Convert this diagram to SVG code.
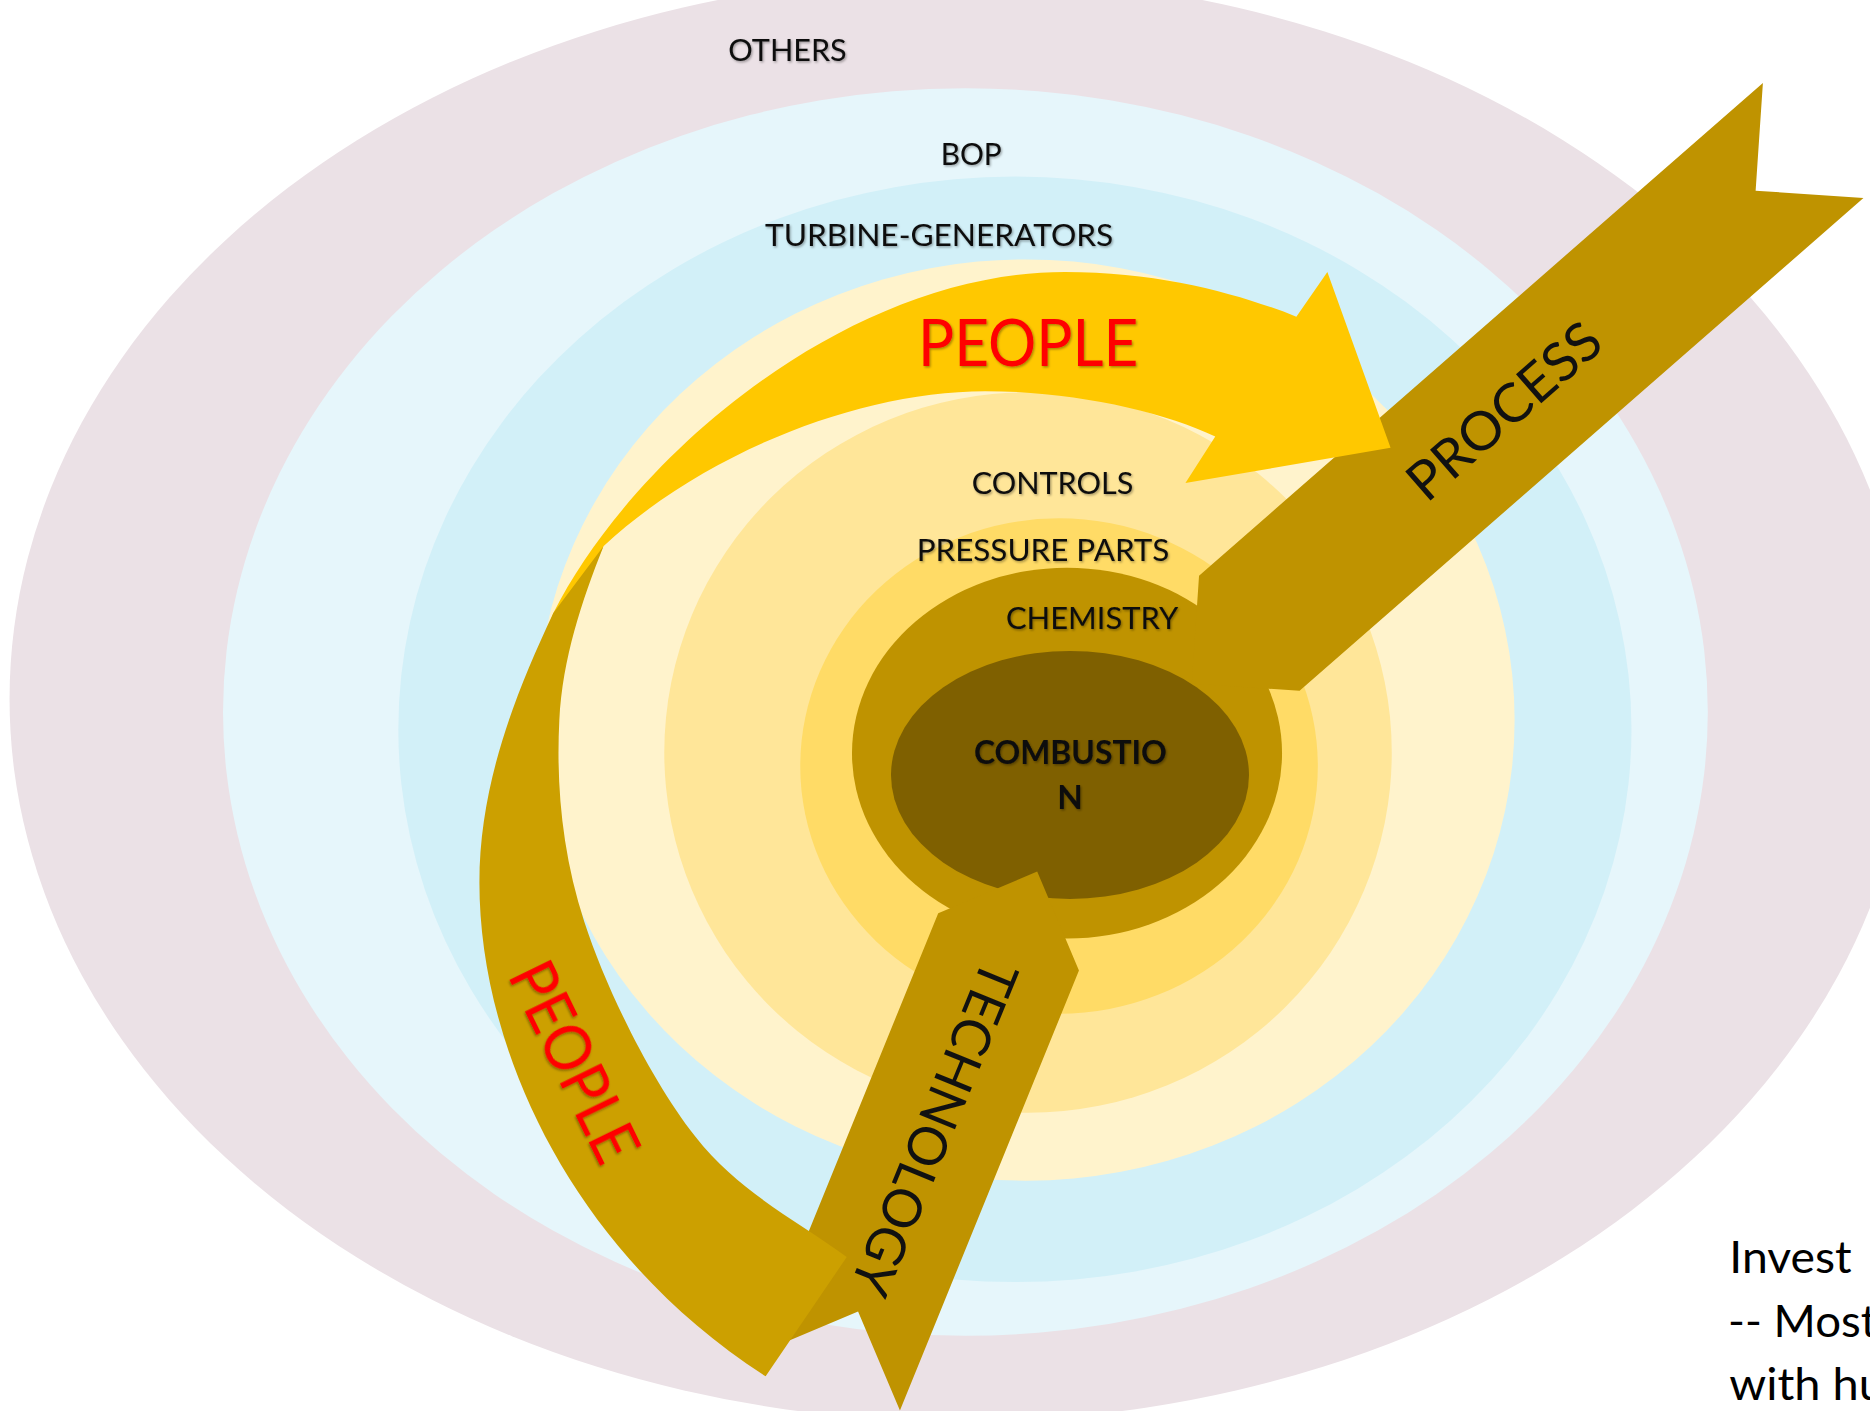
<svg xmlns="http://www.w3.org/2000/svg" width="1870" height="1411" viewBox="0 0 1870 1411">
<defs>
<filter id="sh" x="-10%" y="-30%" width="120%" height="160%">
<feDropShadow dx="1" dy="1.2" stdDeviation="0.8" flood-color="#000" flood-opacity="0.35"/>
</filter>
</defs>
<style>
.lbl{font-family:Lato,"Open Sans","Liberation Sans",sans-serif;font-size:26.3px;fill:#0d0d0d}
.bold{font-weight:bold;font-size:27.8px}
.ppl{font-family:Lato,"Open Sans","Liberation Sans",sans-serif;fill:#ff0000}
.arr{font-family:Lato,"Open Sans","Liberation Sans",sans-serif;font-size:45px;fill:#111}
.note{font-family:Lato,"Open Sans","Liberation Sans",sans-serif;font-size:38px;fill:#000}
</style>
<rect width="1870" height="1411" fill="#ffffff"/>
<g transform="scale(1.1926)">
<g id="rings">
<g id="others">
<ellipse cx="805" cy="586" rx="797" ry="606" fill="#EBE1E6"/>
<text class="lbl" x="610.7" y="50.9" textLength="99.3" lengthAdjust="spacingAndGlyphs" filter="url(#sh)">OTHERS</text>
</g>
<g id="bop">
<ellipse cx="809.5" cy="597" rx="622.5" ry="523" fill="#E6F6FB"/>
<text class="lbl" x="788.8" y="138.4" textLength="51.2" lengthAdjust="spacingAndGlyphs" filter="url(#sh)">BOP</text>
</g>
<g id="turbine-generators">
<ellipse cx="851" cy="611.5" rx="517" ry="463.5" fill="#D2F0F8"/>
<text class="lbl" x="641.5" y="206.3" textLength="292" lengthAdjust="spacingAndGlyphs" filter="url(#sh)">TURBINE-GENERATORS</text>
</g>
<g id="cream">
<ellipse cx="860" cy="603.75" rx="410" ry="386.25" fill="#FFF3CC"/>
</g>
<g id="controls">
<ellipse cx="862" cy="631" rx="305" ry="302" fill="#FFE699"/>
<text class="lbl" x="814.8" y="414.5" textLength="135.5" lengthAdjust="spacingAndGlyphs" filter="url(#sh)">CONTROLS</text>
</g>
<g id="pressure-parts">
<ellipse cx="888" cy="642.3" rx="217" ry="207.7" fill="#FFDB66"/>
<text class="lbl" x="768.6" y="470.1" textLength="211.9" lengthAdjust="spacingAndGlyphs" filter="url(#sh)">PRESSURE PARTS</text>
</g>
<g id="chemistry">
<ellipse cx="894.7" cy="631.5" rx="180.3" ry="155.5" fill="#BF9300"/>
<text class="lbl" x="843.5" y="527.7" textLength="144.5" lengthAdjust="spacingAndGlyphs" filter="url(#sh)">CHEMISTRY</text>
</g>
<g id="combustion">
<ellipse cx="897.2" cy="649.8" rx="150.1" ry="104" fill="#7F6000"/>
<text class="lbl bold" x="816.7" y="640.9" textLength="161.6" lengthAdjust="spacingAndGlyphs" filter="url(#sh)">COMBUSTIO</text>
<text class="lbl bold" x="897.2" y="678.6" text-anchor="middle" filter="url(#sh)">N</text>
</g>
</g>
<g id="connectors">
<g id="process">
<path d="M999.3,573.1 L1005.4,482.7 L1478.2,69.5 L1472.1,159.9 L1562.5,166.1 L1089.7,579.3 Z" fill="#BF9300"/>
<text class="arr" transform="translate(1261,344.4) rotate(-41.2)" x="0" y="16" text-anchor="middle" textLength="200" lengthAdjust="spacingAndGlyphs">PROCESS</text>
</g>
<g id="technology">
<path d="M869.7,730.8 L904.7,813.8 L754.6,1182.7 L719.5,1099.7 L636.6,1134.6 L786.7,765.7 Z" fill="#BF9300"/>
<text class="arr" transform="translate(783.6,946) rotate(112.2)" x="0" y="16" text-anchor="middle" textLength="298" lengthAdjust="spacingAndGlyphs">TECHNOLOGY</text>
</g>
<g id="people-top">
<path d="M464,514 C531.5,380.5 713,228 893,228 C975,228 1040,247 1087,265.5 L1113,228 L1166,375.5 L994,405 L1019,366 C975,345 900,328 826,328 C720,328 590,380 506,458 L466,546 L451,548 Z" fill="#FFC800"/>
<text class="ppl" x="769.7" y="306.9" font-size="54.6" textLength="184.8" lengthAdjust="spacingAndGlyphs" filter="url(#sh)">PEOPLE</text>
</g>
<g id="people-left">
<path d="M506,458 L464,514 C430,586 402,660 402,740 C402,880 480,1050 642,1154 L710,1054 C666.5,1022.1 619.7,999.8 583,953 C546.3,906.2 509,831.2 490,773 C471,714.8 466.3,656.5 469,604 C471.7,551.5 487.7,504.5 506,458 Z" fill="#CCA000"/>
<text class="ppl" transform="translate(482,890) rotate(64)" x="0" y="19" font-size="53" text-anchor="middle" textLength="180" lengthAdjust="spacingAndGlyphs" filter="url(#sh)">PEOPLE</text>
</g>
</g>
<g id="note">
<text class="note" x="1450" y="1067.7" textLength="102.6" lengthAdjust="spacingAndGlyphs">Invest</text>
<text class="note" x="1449" y="1120.8" textLength="124.9" lengthAdjust="spacingAndGlyphs">-- Most</text>
<text class="note" x="1450" y="1173.9" textLength="130.6" lengthAdjust="spacingAndGlyphs">with hu</text>
</g>
</g>
</svg>
